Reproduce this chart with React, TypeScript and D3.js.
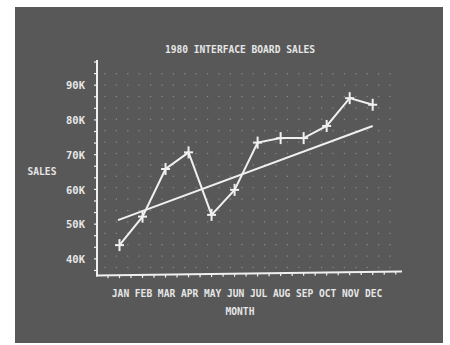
import React from "react";
import * as d3 from "d3";

const months = ["JAN", "FEB", "MAR", "APR", "MAY", "JUN", "JUL", "AUG", "SEP", "OCT", "NOV", "DEC"];
const sales = [44.0, 52.2, 65.9, 70.7, 52.7, 59.9, 73.5, 74.8, 74.8, 78.3, 86.3, 84.4];
const trendEnds = [51.2, 78.3];
const yTicks = [40, 50, 60, 70, 80, 90];
const title = "1980 INTERFACE BOARD SALES";
const xTitle = "MONTH";
const yTitle = "SALES";

export default function App() {
  const W = 450, H = 345;
  const x = d3.scaleLinear().domain([0, 11]).range([119.5, 372.7]);
  const y = d3.scaleLinear().domain([40, 90]).range([259, 85.3]);
  const axisX = 97;
  const axisY = 275.5;
  const axisTop = 60;
  const axisRight = 402;
  const fg = "#f0f0f0";
  const txt = "#e6e6e6";
  const font = "'DejaVu Sans Mono', monospace";

  const line = d3.line<number>().x((_, i) => x(i)).y((d) => y(d));

  const dots: [number, number][] = [];
  const step = 11.4;
  for (let gx = axisX + 8; gx < axisRight - 4; gx += step) {
    for (let gy = axisY - 8; gy > axisTop + 6; gy -= step) {
      dots.push([gx, gy]);
    }
  }
  const yMinor: number[] = [];
  for (let v = 36.7; v <= 97; v += 10 / 3) yMinor.push(y(v));
  const xMinor: number[] = [];
  for (let t = -1; t <= 12.5; t += 0.5) {
    const px = x(t);
    if (px > axisX + 3 && px < axisRight) xMinor.push(px);
  }

  return (
    <svg width={W} height={H} style={{ position: "absolute", left: 0, top: 0 }}>
      <rect x={0} y={0} width={W} height={H} fill="#ffffff" />
      <rect x={15} y={7} width={428} height={336} fill="#585858" />
      {dots.map(([dx, dy], i) => (
        <rect key={i} x={dx - 0.6} y={dy - 0.6} width={1.2} height={1.2} fill="#8e8e8e" />
      ))}
      <text x={240} y={53} fill={txt} fontFamily={font} fontSize={9.6} textAnchor="middle" fontWeight="bold">
        {title}
      </text>
      <line x1={axisX} y1={axisTop} x2={axisX} y2={axisY + 1} stroke={fg} strokeWidth={2} />
      <line x1={axisX - 1} y1={axisY} x2={axisRight} y2={axisY - 4} stroke={fg} strokeWidth={2} />
      {yMinor.map((py, i) =>
        py < axisY - 2 && py > axisTop ? (
          <line key={i} x1={axisX - 3} y1={py} x2={axisX} y2={py} stroke={fg} strokeWidth={1.2} />
        ) : null
      )}
      {xMinor.map((px, i) => {
        const yy = axisY - ((px - axisX) / (axisRight - axisX)) * 4;
        return <line key={i} x1={px} y1={yy} x2={px} y2={yy + 3} stroke={fg} strokeWidth={1.2} />;
      })}
      {yTicks.map((v) => (
        <text key={v} x={85} y={y(v) + 4} fill={txt} fontFamily={font} fontSize={10.5} fontWeight="bold" textAnchor="end">
          {v}K
        </text>
      ))}
      {months.map((m, i) => (
        <text key={m} x={x(i) + 1} y={297} fill={txt} fontFamily={font} fontSize={9.6} fontWeight="bold" textAnchor="middle">
          {m}
        </text>
      ))}
      <text x={240} y={315} fill={txt} fontFamily={font} fontSize={9.6} fontWeight="bold" textAnchor="middle">
        {xTitle}
      </text>
      <text x={42} y={175} fill={txt} fontFamily={font} fontSize={9.6} fontWeight="bold" textAnchor="middle">
        {yTitle}
      </text>
      <line x1={x(0) - 1.5} y1={y(trendEnds[0])} x2={x(11)} y2={y(trendEnds[1])} stroke={fg} strokeWidth={2} />
      <path d={line(sales) || ""} fill="none" stroke={fg} strokeWidth={2} />
      {sales.map((v, i) => (
        <g key={i} stroke={fg} strokeWidth={2}>
          <line x1={x(i) - 4.5} y1={y(v)} x2={x(i) + 4.5} y2={y(v)} />
          <line x1={x(i)} y1={y(v) - 6} x2={x(i)} y2={y(v) + 6} />
        </g>
      ))}
    </svg>
  );
}
